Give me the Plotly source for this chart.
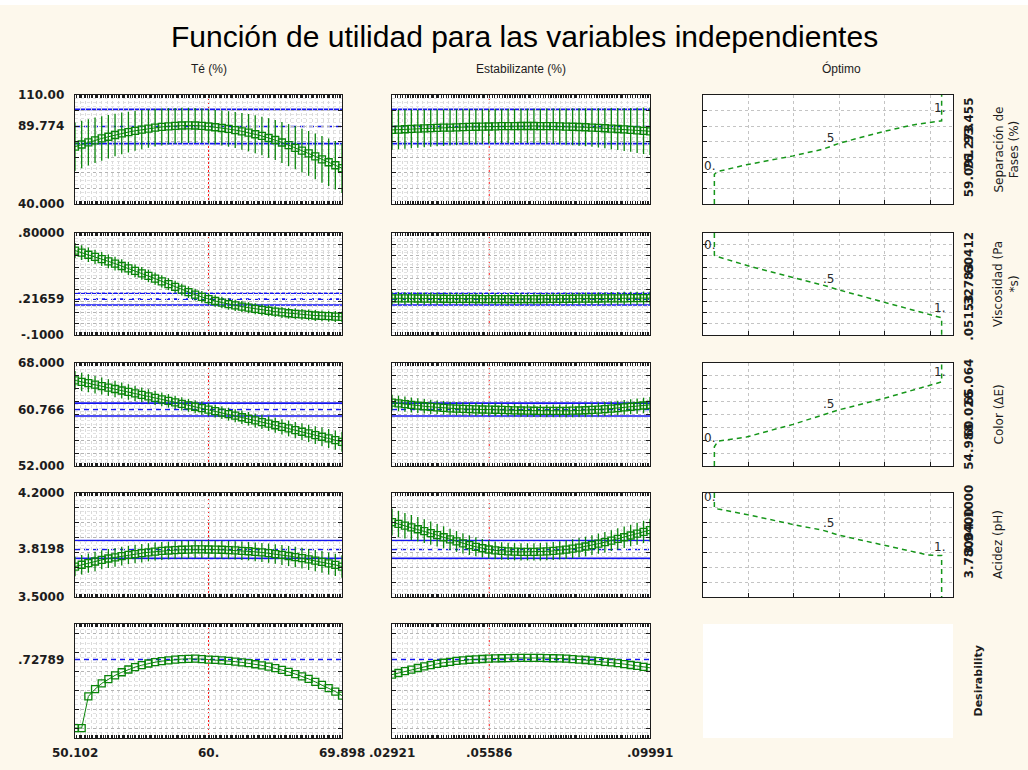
import plotly.graph_objects as go

# ---------------- factor grids ----------------
te_pct = [50.102, 50.597, 51.092, 51.587, 52.082, 52.577, 53.071, 53.566, 54.061, 54.556,
          55.051, 55.546, 56.041, 56.536, 57.031, 57.526, 58.020, 58.515, 59.010, 59.505,
          60.000, 60.495, 60.990, 61.485, 61.980, 62.475, 62.969, 63.464, 63.959, 64.454,
          64.949, 65.444, 65.939, 66.434, 66.929, 67.424, 67.918, 68.413, 68.908, 69.403, 69.898]
estab_pct = [0.02921, 0.03098, 0.03275, 0.03451, 0.03628, 0.03805, 0.03982, 0.04158, 0.04335, 0.04512,
             0.04689, 0.04865, 0.05042, 0.05219, 0.05396, 0.05572, 0.05749, 0.05926, 0.06103, 0.06279,
             0.06456, 0.06633, 0.06810, 0.06986, 0.07163, 0.07340, 0.07517, 0.07693, 0.07870, 0.08047,
             0.08224, 0.08400, 0.08577, 0.08754, 0.08931, 0.09107, 0.09284, 0.09461, 0.09638, 0.09814, 0.09991]

# ---------------- predicted responses vs Té (%) ----------------
sep_te = [76.8, 78.2, 79.6, 80.9, 82.1, 83.2, 84.3, 85.3, 86.2, 87.0,
          87.7, 88.4, 89.0, 89.5, 89.9, 90.2, 90.4, 90.5, 90.4, 90.2,
          89.774, 89.3, 88.8, 88.2, 87.5, 86.7, 85.8, 84.8, 83.7, 82.4,
          81.1, 79.5, 77.8, 76.1, 74.3, 72.5, 70.6, 68.7, 66.8, 64.9, 63.0]
sep_te_ci = [15.5, 15.2, 14.9, 14.6, 14.3, 14.0, 13.7, 13.4, 13.1, 12.8,
             12.6, 12.3, 12.1, 11.9, 11.7, 11.5, 11.4, 11.3, 11.2, 11.1,
             11.0, 11.1, 11.2, 11.4, 11.6, 11.8, 12.0, 12.2, 12.4, 12.7,
             12.9, 13.2, 13.5, 13.8, 14.1, 14.4, 14.7, 15.0, 15.3, 15.6, 16.0]
visc_te = [0.645, 0.627, 0.608, 0.589, 0.570, 0.550, 0.530, 0.509, 0.488, 0.466,
           0.444, 0.421, 0.398, 0.374, 0.349, 0.325, 0.300, 0.278, 0.256, 0.236,
           0.21659, 0.200, 0.186, 0.173, 0.162, 0.151, 0.141, 0.131, 0.122, 0.114,
           0.106, 0.099, 0.092, 0.087, 0.082, 0.077, 0.072, 0.069, 0.066, 0.063, 0.060]
visc_te_ci = [0.066, 0.065, 0.064, 0.063, 0.062, 0.061, 0.060, 0.059, 0.058, 0.057,
              0.056, 0.055, 0.054, 0.054, 0.053, 0.053, 0.052, 0.052, 0.052, 0.052,
              0.052, 0.051, 0.051, 0.050, 0.050, 0.050, 0.049, 0.049, 0.049, 0.049,
              0.048, 0.048, 0.048, 0.048, 0.048, 0.048, 0.048, 0.048, 0.048, 0.048, 0.048]
color_te = [65.30, 65.08, 64.86, 64.64, 64.42, 64.19, 63.96, 63.73, 63.50, 63.27,
            63.04, 62.81, 62.58, 62.35, 62.12, 61.89, 61.66, 61.43, 61.20, 60.98,
            60.766, 60.53, 60.29, 60.05, 59.81, 59.57, 59.33, 59.08, 58.83, 58.58,
            58.33, 58.08, 57.83, 57.58, 57.32, 57.06, 56.80, 56.54, 56.28, 56.02, 55.76]
color_te_ci = [1.45, 1.42, 1.39, 1.36, 1.33, 1.30, 1.27, 1.24, 1.21, 1.18,
               1.15, 1.12, 1.10, 1.08, 1.06, 1.04, 1.02, 1.01, 1.00, 1.00,
               1.00, 1.00, 1.00, 1.01, 1.02, 1.04, 1.06, 1.08, 1.10, 1.13,
               1.16, 1.19, 1.23, 1.27, 1.31, 1.35, 1.39, 1.43, 1.47, 1.51, 1.55]
acid_te = [3.705, 3.717, 3.728, 3.739, 3.750, 3.759, 3.767, 3.775, 3.783, 3.789,
           3.795, 3.801, 3.806, 3.810, 3.813, 3.816, 3.818, 3.819, 3.820, 3.820,
           3.8198, 3.819, 3.818, 3.816, 3.814, 3.811, 3.808, 3.804, 3.800, 3.795,
           3.789, 3.783, 3.776, 3.769, 3.761, 3.753, 3.745, 3.736, 3.726, 3.716, 3.705]
acid_te_ci = [0.066, 0.066, 0.065, 0.065, 0.064, 0.064, 0.063, 0.063, 0.062, 0.062,
              0.062, 0.061, 0.061, 0.061, 0.060, 0.060, 0.060, 0.060, 0.060, 0.060,
              0.060, 0.060, 0.060, 0.061, 0.061, 0.062, 0.062, 0.063, 0.064, 0.065,
              0.066, 0.067, 0.068, 0.069, 0.070, 0.071, 0.072, 0.073, 0.074, 0.075, 0.076]
des_te = [0.0, 0.0, 0.336, 0.413, 0.475, 0.520, 0.560, 0.593, 0.622, 0.647,
          0.668, 0.686, 0.700, 0.711, 0.720, 0.727, 0.733, 0.736, 0.737, 0.733,
          0.72789, 0.724, 0.719, 0.713, 0.706, 0.698, 0.689, 0.678, 0.666, 0.652,
          0.636, 0.618, 0.598, 0.574, 0.550, 0.522, 0.490, 0.458, 0.424, 0.388, 0.345]

# ---------------- predicted responses vs Estabilizante (%) ----------------
sep_est = [87.6, 87.8, 88.0, 88.2, 88.4, 88.55, 88.7, 88.85, 89.0, 89.1,
           89.25, 89.4, 89.5, 89.6, 89.7, 89.77, 89.9, 89.95, 90.0, 90.05,
           90.1, 90.1, 90.1, 90.05, 90.0, 89.95, 89.9, 89.75, 89.6, 89.45,
           89.3, 89.1, 88.9, 88.65, 88.4, 88.15, 87.9, 87.6, 87.3, 87.0, 86.7]
sep_est_ci = [12.8, 12.65, 12.5, 12.35, 12.2, 12.05, 11.9, 11.8, 11.7, 11.6,
              11.5, 11.4, 11.3, 11.2, 11.15, 11.1, 11.05, 11.0, 11.0, 11.0,
              11.0, 11.05, 11.1, 11.2, 11.3, 11.4, 11.5, 11.65, 11.8, 12.0,
              12.2, 12.4, 12.65, 12.9, 13.2, 13.5, 13.8, 14.1, 14.5, 14.9, 15.3]
visc_est = [0.224, 0.2235, 0.223, 0.2225, 0.222, 0.2215, 0.221, 0.2205, 0.220, 0.2195,
            0.219, 0.2185, 0.218, 0.2175, 0.217, 0.2166, 0.2165, 0.2165, 0.2165, 0.2165,
            0.2165, 0.217, 0.217, 0.2175, 0.218, 0.2185, 0.219, 0.2195, 0.220, 0.2205,
            0.221, 0.2215, 0.222, 0.2225, 0.223, 0.2235, 0.224, 0.2245, 0.225, 0.2255, 0.226]
visc_est_ci = [0.057, 0.0565, 0.056, 0.0555, 0.055, 0.0545, 0.054, 0.0535, 0.053, 0.0525,
               0.052, 0.052, 0.0515, 0.0515, 0.051, 0.051, 0.051, 0.051, 0.051, 0.051,
               0.051, 0.051, 0.051, 0.0515, 0.0515, 0.052, 0.052, 0.0525, 0.053, 0.0535,
               0.054, 0.0545, 0.055, 0.0555, 0.056, 0.0565, 0.057, 0.0572, 0.0575, 0.0578, 0.058]
color_est = [61.85, 61.72, 61.60, 61.49, 61.38, 61.28, 61.19, 61.10, 61.03, 60.96,
             60.90, 60.86, 60.82, 60.79, 60.78, 60.766, 60.74, 60.71, 60.68, 60.65,
             60.62, 60.60, 60.58, 60.57, 60.56, 60.56, 60.56, 60.57, 60.59, 60.62,
             60.66, 60.71, 60.77, 60.84, 60.92, 61.00, 61.10, 61.20, 61.30, 61.40, 61.50]
color_est_ci = [1.22, 1.20, 1.18, 1.16, 1.14, 1.12, 1.10, 1.08, 1.06, 1.04,
                1.03, 1.02, 1.01, 1.00, 1.00, 1.00, 0.99, 0.98, 0.97, 0.97,
                0.96, 0.96, 0.96, 0.96, 0.97, 0.98, 0.99, 1.00, 1.01, 1.02,
                1.03, 1.05, 1.07, 1.09, 1.11, 1.13, 1.15, 1.17, 1.19, 1.21, 1.23]
acid_est = [4.004, 3.992, 3.980, 3.968, 3.956, 3.943, 3.930, 3.916, 3.902, 3.888,
            3.874, 3.861, 3.849, 3.838, 3.828, 3.8198, 3.814, 3.810, 3.807, 3.805,
            3.804, 3.804, 3.804, 3.805, 3.807, 3.810, 3.814, 3.819, 3.825, 3.832,
            3.840, 3.849, 3.859, 3.869, 3.880, 3.891, 3.902, 3.914, 3.926, 3.938, 3.950]
acid_est_ci = [0.090, 0.088, 0.086, 0.084, 0.082, 0.080, 0.078, 0.076, 0.074, 0.072,
               0.070, 0.068, 0.066, 0.064, 0.062, 0.061, 0.060, 0.059, 0.058, 0.058,
               0.058, 0.058, 0.058, 0.059, 0.060, 0.061, 0.062, 0.063, 0.064, 0.065,
               0.066, 0.067, 0.068, 0.069, 0.070, 0.071, 0.072, 0.073, 0.074, 0.075, 0.076]
des_est = [0.568, 0.585, 0.604, 0.621, 0.638, 0.655, 0.669, 0.682, 0.694, 0.704,
           0.713, 0.720, 0.726, 0.730, 0.734, 0.737, 0.740, 0.742, 0.744, 0.745,
           0.746, 0.746, 0.746, 0.745, 0.744, 0.742, 0.740, 0.737, 0.733, 0.728,
           0.723, 0.717, 0.711, 0.704, 0.697, 0.689, 0.680, 0.670, 0.660, 0.650, 0.640]

# ---------------- current settings ----------------
te_current = 60.0
estab_current = 0.05586
predicted = [89.774, 0.21659, 60.766, 3.8198]
desirability_current = 0.72789

# ---------------- desirability functions (desirability, response) ----------------
opt_d_sep = [0, 0, 0.016, 0.141, 0.346, 0.478, 0.551, 0.742, 0.874, 0.977, 1.0, 1.0]
opt_y_sep = [40, 59.091, 60.9, 65.2, 70.9, 75.2, 79.1, 86.5, 90.8, 93.2, 93.455, 110]
opt_d_visc = [0, 0, 0.016, 0.155, 0.346, 0.478, 0.551, 0.742, 0.874, 0.977, 1.0, 1.0]
opt_y_visc = [0.8, 0.60412, 0.59, 0.507, 0.407, 0.34, 0.296, 0.193, 0.12, 0.061, 0.05153, -0.1]
opt_d_color = [0, 0, 0.016, 0.141, 0.346, 0.478, 0.551, 0.742, 0.874, 0.977, 1.0, 1.0]
opt_y_color = [52, 54.988, 55.88, 56.5, 58.47, 59.87, 60.75, 62.46, 63.75, 64.75, 65.064, 68]
opt_d_acid = [0, 0, 0.016, 0.141, 0.346, 0.478, 0.551, 0.742, 0.874, 0.94, 0.977, 1.0, 1.0]
opt_y_acid = [4.2, 4.1, 4.093, 4.056, 3.988, 3.949, 3.915, 3.851, 3.806, 3.783, 3.78, 3.78, 3.5]

opt_tick_vals = [[59.091, 76.273, 93.455], [0.05153, 0.32783, 0.60412],
                 [54.988, 60.026, 65.064], [3.78, 3.94, 4.1]]
opt_tick_text = [["59.091", "76.273", "93.455"], [".05153", ".32783", ".60412"],
                 ["54.988", "60.026", "65.064"], ["3.7800", "3.9400", "4.1000"]]
# positions of the 0. / .5 / 1. markers on each desirability curve
opt_mark_text = ["0.", ".5", "1."]
opt_mark_d = [-0.02, 0.5, 0.99]
opt_mark_y = [[64.5, 82.3, 101.5], [0.69, 0.398, 0.135], [56.4, 61.6, 66.6], [4.17, 4.0, 3.835]]

# ---------------- axis text ----------------
title_text = "Función de utilidad para las variables independientes"
factor_names = ["Té (%)", "Estabilizante (%)", "Óptimo"]
response_names = ["Separación de<br>Fases (%)", "Viscosidad (Pa<br>*s)", "Color (ΔE)", "Acidez (pH)", "Desirability"]
y_ranges = [(40, 110), (-0.1, 0.8), (52, 68), (3.5, 4.2), (-0.106, 1.106)]
y_major = [10, 0.1, 2, 0.1, 0.2]
y_minor = [2.5, 0.025, 0.5, 0.025, 0.05]
y_tick_text = [["40.000", "89.774", "110.00"], ["-.1000", ".21659", ".80000"],
               ["52.000", "60.766", "68.000"], ["3.5000", "3.8198", "4.2000"], [".72789"]]
te_tick_text = ["50.102", "60.", "69.898"]
estab_tick_text = [".02921", ".05586", ".09991"]

# ---------------- layout geometry (pixels) ----------------
W, H = 1028, 770
col_px = [(75, 342), (392, 650), (703, 953)]
row_px = [(95, 204), (233, 335), (363, 466), (493, 597), (624, 738)]
GREEN = "#0a850a"
BLUE = "#1414f0"
INK = "#1c1c1c"
CREAM = "#fdf8ec"


def xdom(c):
    return [col_px[c][0] / W, col_px[c][1] / W]


def ydom(r):
    return [1 - row_px[r][1] / H, 1 - row_px[r][0] / H]


def names(r, c):
    k = r * 3 + c + 1
    s = "" if k == 1 else str(k)
    return "x" + s, "y" + s, "xaxis" + s, "yaxis" + s


fig = go.Figure()
layout_axes = {}
shapes = []
annotations = []

profiles = [
    [(sep_te, sep_te_ci), (visc_te, visc_te_ci), (color_te, color_te_ci), (acid_te, acid_te_ci), (des_te, None)],
    [(sep_est, sep_est_ci), (visc_est, visc_est_ci), (color_est, color_est_ci), (acid_est, acid_est_ci), (des_est, None)],
]
factor_x = [te_pct, estab_pct]
factor_current = [te_current, estab_current]
x_step = [0.4, 0.0014]
cur_index = te_pct.index(te_current)

label_font = dict(family="DejaVu Sans", size=12, color=INK, weight="bold")

for c in range(2):
    xs = factor_x[c]
    for r in range(5):
        xn, yn, xa, ya = names(r, c)
        vals, ci = profiles[c][r]
        tr = dict(x=xs, y=vals, xaxis=xn, yaxis=yn, mode="lines+markers",
                  line=dict(color=GREEN, width=1),
                  marker=dict(symbol="square-open", size=7, color=GREEN, line=dict(width=1.3, color=GREEN)),
                  hoverinfo="skip", showlegend=False)
        if ci is not None:
            tr["error_y"] = dict(type="data", array=ci, symmetric=True, visible=True,
                                 color=GREEN, thickness=1.3, width=0)
        fig.add_trace(go.Scatter(**tr))

        layout_axes[xa] = dict(domain=xdom(c), anchor=yn, range=[xs[0], xs[-1]],
                               showline=True, mirror="allticks", linecolor=INK, linewidth=1,
                               ticks="inside", ticklen=3, tickcolor=INK, tickwidth=1,
                               tick0=xs[0], dtick=x_step[c], showticklabels=False,
                               showgrid=True, gridcolor="#dadada", griddash="dot", gridwidth=1,
                               zeroline=False,
                               minor=dict(ticks="inside", ticklen=3, tickcolor=INK, dtick=x_step[c] / 2,
                                          showgrid=False))
        lo, hi = y_ranges[r]
        layout_axes[ya] = dict(domain=ydom(r), anchor=xn, range=[lo, hi],
                               showline=True, mirror="allticks", linecolor=INK, linewidth=1,
                               ticks="inside", ticklen=4, tickcolor=INK, tick0=0, dtick=y_major[r],
                               showticklabels=False, showgrid=True, gridcolor="#b4b4b4", griddash="dot",
                               zeroline=False,
                               minor=dict(dtick=y_minor[r], showgrid=True, gridcolor="#e2e2e2",
                                          griddash="dot", ticks=""))

        # current-setting marker line
        shapes.append(dict(type="line", xref=xn, yref=yn + " domain", x0=factor_current[c], x1=factor_current[c],
                           y0=0, y1=1, line=dict(color="#ff1a1a", width=1, dash="2px,2px"), layer="below"))
        if r < 4:
            p = predicted[r]
            half = profiles[0][r][1][cur_index]
            for yv, dash in [(p + half, "solid"), (p - half, "solid"), (p, "5px,4px")]:
                shapes.append(dict(type="line", xref=xn + " domain", yref=yn, x0=0, x1=1, y0=yv, y1=yv,
                                   line=dict(color=BLUE, width=1.6, dash=dash), layer="below"))
        else:
            shapes.append(dict(type="line", xref=xn + " domain", yref=yn, x0=0, x1=1,
                               y0=desirability_current, y1=desirability_current,
                               line=dict(color=BLUE, width=1.6, dash="5px,4px"), layer="below"))

        # left value labels
        if c == 0:
            if r < 4:
                ypos = [lo, predicted[r], hi]
            else:
                ypos = [desirability_current]
            for yv, txt in zip(ypos, y_tick_text[r]):
                annotations.append(dict(text=txt, xref="paper", yref=yn, x=66 / W, y=yv,
                                        xanchor="right", yanchor="middle", showarrow=False, font=label_font))

# bottom factor labels
for c, (xs, cur, texts) in enumerate([(te_pct, te_current, te_tick_text),
                                      (estab_pct, estab_current, estab_tick_text)]):
    xn = names(4, c)[0]
    for xv, txt in zip([xs[0], cur, xs[-1]], texts):
        annotations.append(dict(text=txt, xref=xn, yref="paper", x=xv, y=1 - 753 / H,
                                xanchor="center", yanchor="middle", showarrow=False, font=label_font))

# desirability function panels
opt_curves = [(opt_d_sep, opt_y_sep), (opt_d_visc, opt_y_visc), (opt_d_color, opt_y_color), (opt_d_acid, opt_y_acid)]
for r in range(4):
    xn, yn, xa, ya = names(r, 2)
    dvals, yvals = opt_curves[r]
    fig.add_trace(go.Scatter(x=dvals, y=yvals, xaxis=xn, yaxis=yn, mode="lines",
                             line=dict(color="#16961a", width=1.5, dash="5px,4px"),
                             hoverinfo="skip", showlegend=False))
    lo, hi = y_ranges[r]
    layout_axes[xa] = dict(domain=xdom(2), anchor=yn, range=[-0.05, 1.05], showline=True, mirror=True,
                           linecolor=INK, linewidth=1, ticks="inside", ticklen=4, tickcolor=INK,
                           tick0=0.15, dtick=0.2, showticklabels=False, showgrid=True,
                           gridcolor="#c4c4c4", griddash="dot", zeroline=False)
    layout_axes[ya] = dict(domain=ydom(r), anchor=xn, range=[lo, hi], showline=True, mirror=True,
                           linecolor=INK, linewidth=1, ticks="inside", ticklen=4, tickcolor=INK,
                           tick0=0, dtick=y_major[r], showticklabels=False, showgrid=True,
                           gridcolor="#c4c4c4", griddash="dot", zeroline=False)
    for txt, dv, yv in zip(opt_mark_text, opt_mark_d, opt_mark_y[r]):
        annotations.append(dict(text=txt, xref=xn, yref=yn, x=dv, y=yv, showarrow=False,
                                xanchor="center", yanchor="middle",
                                font=dict(family="DejaVu Sans", size=12, color="#2a2a2a")))
    for tv, tt in zip(opt_tick_vals[r], opt_tick_text[r]):
        annotations.append(dict(text=tt, xref="paper", yref=yn, x=969 / W, y=tv, textangle=-90,
                                xanchor="center", yanchor="middle", showarrow=False, font=label_font))
    annotations.append(dict(text=response_names[r], xref="paper", yref="paper", x=989 / W,
                            y=1 - (row_px[r][0] + row_px[r][1]) / 2 / H, textangle=-90,
                            xanchor="left", yanchor="middle", align="center", showarrow=False,
                            font=dict(family="DejaVu Sans", size=12, color=INK)))

# empty desirability slot in the last column
shapes.append(dict(type="rect", xref="paper", yref="paper", x0=col_px[2][0] / W, x1=col_px[2][1] / W,
                   y0=1 - row_px[4][1] / H, y1=1 - row_px[4][0] / H, fillcolor="white",
                   line=dict(width=0), layer="below"))
annotations.append(dict(text=response_names[4], xref="paper", yref="paper", x=969 / W,
                        y=1 - (row_px[4][0] + row_px[4][1]) / 2 / H, textangle=-90,
                        xanchor="left", yanchor="middle", showarrow=False,
                        font=dict(family="DejaVu Sans", size=11, color=INK, weight="bold")))

# thin white strip along the top edge
shapes.append(dict(type="rect", xref="paper", yref="paper", x0=0, x1=1, y0=1 - 5 / H, y1=1,
                   fillcolor="white", line=dict(width=0), layer="below"))

# title and column headers
annotations.append(dict(text=title_text, xref="paper", yref="paper", x=524 / W, y=1 - 36 / H,
                        xanchor="center", yanchor="middle", showarrow=False,
                        font=dict(family="Liberation Sans, Arial, sans-serif", size=30, color="#000000")))
for txt, xc in zip(factor_names, [208.5, 521, 841]):
    annotations.append(dict(text=txt, xref="paper", yref="paper", x=xc / W, y=1 - 69 / H,
                            xanchor="center", yanchor="middle", showarrow=False,
                            font=dict(family="Liberation Sans, Arial, sans-serif", size=12, color=INK)))

fig.update_layout(width=W, height=H, margin=dict(l=0, r=0, t=0, b=0),
                  paper_bgcolor=CREAM, plot_bgcolor="white", showlegend=False,
                  shapes=shapes, annotations=annotations, **layout_axes)

fig.write_html("out.html")
